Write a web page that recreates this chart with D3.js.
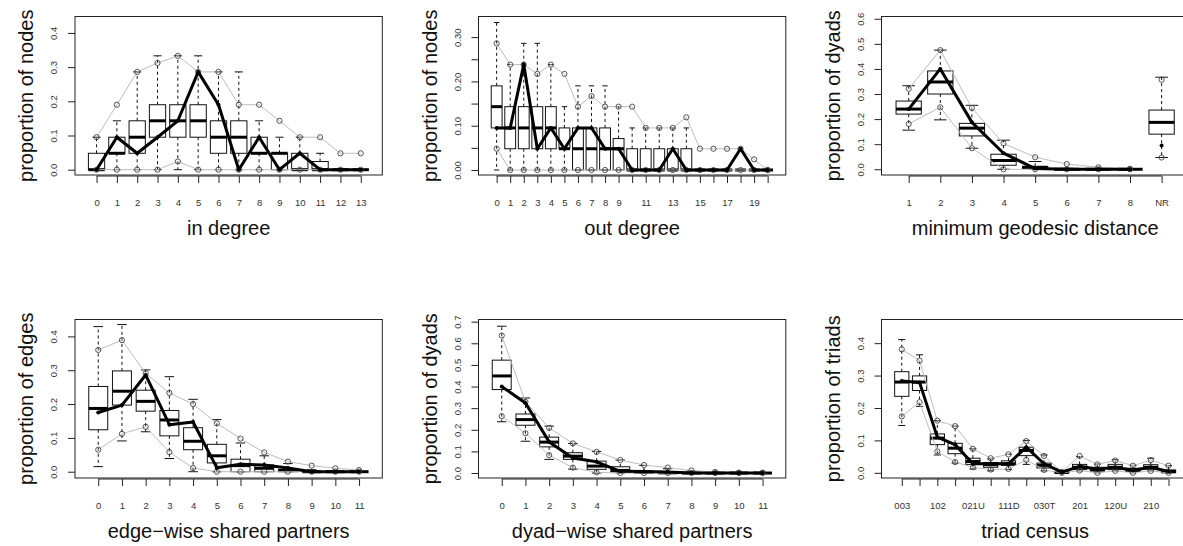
<!DOCTYPE html>
<html>
<head>
<meta charset="utf-8">
<script src="https://cdn.jsdelivr.net/npm/d3@7"></script>
<style>
  body { margin: 0; background: #fff; }
  svg { display: block; }
  text { font-family: "Liberation Sans", Arial, Helvetica, sans-serif; }
</style>
</head>
<body>
<div id="chart"></div>
<script>
// box = [lower whisker, q1, median, q3, upper whisker]

// in degree
const idegLabels = ["0","1","2","3","4","5","6","7","8","9","10","11","12","13"];
const idegBox = [[0,0,0,.048,.095],[0,.048,.048,.095,.143],[0,.048,.095,.143,.286],[0,.095,.143,.190,.333],
  [0,.095,.143,.190,.333],[0,.095,.143,.190,.333],[0,.048,.095,.143,.286],[0,.048,.095,.143,.286],
  [0,.048,.048,.095,.143],[0,0,.048,.048,.095],[0,0,0,.048,.095],[0,0,0,.024,.048],[0,0,0,0,0],[0,0,0,0,0]];
const idegObs = [0,.095,.048,.095,.143,.286,.190,0,.095,0,.048,0,0,0];
const idegHi = [.095,.190,.286,.312,.333,.286,.286,.190,.190,.143,.095,.095,.048,.048];
const idegLo = [0,0,0,0,.024,0,0,0,0,0,0,0,0,0];

// out degree
const odegLabels = ["0","1","2","3","4","5","6","7","8","9","","11","","13","","15","","17","","19",""];
const odegBox = [[0,.095,.143,.190,.333],[0,.048,.095,.143,.238],[0,.048,.095,.143,.286],[0,.048,.095,.143,.286],
  [0,.048,.095,.143,.238],[0,.048,.048,.095,.143],[0,0,.048,.095,.190],[0,0,.048,.095,.190],[0,0,.048,.095,.190],
  [0,0,.048,.071,.143],[0,0,0,.048,.095],[0,0,0,.048,.095],[0,0,0,.048,.095],[0,0,0,.048,.095],[0,0,0,.048,.095],
  [0,0,0,0,0],[0,0,0,0,0],[0,0,0,0,0],[0,0,0,0,0],[0,0,0,0,0],[0,0,0,0,0]];
const odegObs = [.095,.095,.238,.048,.095,.048,.095,.095,.048,.048,0,0,0,.048,0,0,0,0,.048,0,0];
const odegHi = [.286,.238,.238,.217,.238,.217,.143,.167,.143,.143,.143,.095,.095,.095,.119,.048,.048,.048,.048,.024,0];
const odegLo = [.048,0,0,0,0,0,0,0,0,0,0,0,0,0,0,0,0,0,0,0,0];

// minimum geodesic distance
const distLabels = ["1","2","3","4","5","6","7","8","NR"];
const distBox = [[.156,.22,.24,.272,.333],[.197,.30,.348,.392,.475],[.084,.133,.164,.183,.255],[0,.016,.035,.06,.116],
  [0,.003,.007,.012,.031],[0,0,0,.001,.004],[0,0,0,0,.002],[0,0,0,0,0],[.047,.14,.187,.236,.367]];
const distObs = [.24,.40,.187,.064,.003,0,0,0,.095];
const distHi = [.321,.475,.244,.103,.048,.021,.008,.002,.357];
const distLo = [.181,.247,.084,0,0,0,0,0,.047];

// edge-wise shared partners
const espLabels = ["0","1","2","3","4","5","6","7","8","9","10","11"];
const espBox = [[.015,.124,.187,.252,.429],[.091,.197,.238,.298,.435],[.118,.179,.208,.241,.301],[.039,.106,.153,.181,.281],
  [0,.065,.09,.13,.214],[0,.026,.047,.081,.154],[0,0,.018,.037,.085],[0,0,.01,.02,.047],[0,0,.004,.006,.024],
  [0,0,0,0,.006],[0,0,0,0,.003],[0,0,0,0,0]];
const espObs = [.175,.197,.286,.139,.147,.012,.022,.02,.011,0,0,0];
const espHi = [.36,.389,.291,.233,.2,.143,.098,.057,.03,.018,.01,.005];
const espLo = [.065,.112,.133,.058,.011,0,0,0,0,0,0,0];

// dyad-wise shared partners
const dspLabels = ["0","1","2","3","4","5","6","7","8","9","10","11"];
const dspBox = [[.237,.386,.449,.522,.679],[.147,.221,.247,.273,.347],[.063,.121,.143,.166,.217],[.018,.063,.078,.094,.137],
  [0,.017,.032,.055,.1],[0,.005,.012,.029,.06],[0,0,.004,.009,.035],[0,0,.001,.004,.02],[0,0,0,.001,.01],
  [0,0,0,0,.004],[0,0,0,0,.001],[0,0,0,0,0]];
const dspObs = [.40,.324,.144,.069,.052,.008,.007,.005,0,0,0,0];
const dspHi = [.636,.329,.209,.137,.098,.06,.037,.025,.012,.005,.002,.002];
const dspLo = [.263,.184,.083,.025,.003,0,0,0,0,0,0,0];

// triad census
const triadLabels = ["003","","102","","021U","","111D","","030T","","201","","120U","","210",""];
const triadBox = [[.146,.236,.28,.312,.411],[.205,.254,.28,.299,.364],[.055,.087,.107,.12,.161],[.03,.059,.076,.091,.144],
  [.012,.026,.035,.045,.074],[.006,.017,.025,.032,.043],[.01,.023,.028,.037,.057],[.026,.053,.069,.079,.1],
  [.006,.015,.023,.03,.055],[0,0,.001,.002,.004],[.006,.01,.017,.026,.05],[0,.005,.01,.017,.027],
  [.006,.01,.017,.026,.04],[0,.004,.009,.014,.023],[.006,.011,.017,.025,.045],[0,0,.004,.009,.022]];
const triadObs = [.283,.279,.11,.087,.028,.028,.028,.079,.028,.002,.02,.011,.017,.008,.017,.004];
const triadHi = [.381,.346,.161,.144,.074,.045,.057,.098,.052,.003,.052,.026,.038,.022,.039,.022];
const triadLo = [.174,.218,.066,.033,.017,.01,.012,.04,.009,0,.007,0,.006,0,.006,0];

// axis ticks
const yTicks4 = [0, .1, .2, .3, .4];
const yTicks6 = [0, .1, .2, .3, .4, .5, .6];
const yTicks7 = [0, .1, .2, .3, .4, .5, .6, .7];
const yTicksOut = [0, .05, .10, .15, .20, .25, .30];
const yLabelsOut = ["0.00", "", "0.10", "", "0.20", "", "0.30"];

const width = 1183, height = 546;
const colLeft = [75, 478.5, 881.5];
const rowTop = [16.5, 319.5];
const panelW = 307.3, panelH = 158.5;

const panels = [
  {col: 0, row: 0, labels: idegLabels, box: idegBox, obs: idegObs, hi: idegHi, lo: idegLo,
   ydom: [-0.0155, 0.448], yticks: yTicks4, xtitle: "in degree", ytitle: "proportion of nodes"},
  {col: 1, row: 0, labels: odegLabels, box: odegBox, obs: odegObs, hi: odegHi, lo: odegLo,
   ydom: [-0.0113, 0.3466], yticks: yTicksOut, ylabels: yLabelsOut, xtitle: "out degree", ytitle: "proportion of nodes"},
  {col: 2, row: 0, labels: distLabels, box: distBox, obs: distObs, hi: distHi, lo: distLo, lineN: 8,
   ydom: [-0.0228, 0.609], yticks: yTicks6, xtitle: "minimum geodesic distance", ytitle: "proportion of dyads"},
  {col: 0, row: 1, labels: espLabels, box: espBox, obs: espObs, hi: espHi, lo: espLo,
   ydom: [-0.0186, 0.45], yticks: yTicks4, xtitle: "edge\u2212wise shared partners", ytitle: "proportion of edges"},
  {col: 1, row: 1, labels: dspLabels, box: dspBox, obs: dspObs, hi: dspHi, lo: dspLo,
   ydom: [-0.023, 0.71], yticks: yTicks7, xtitle: "dyad\u2212wise shared partners", ytitle: "proportion of dyads"},
  {col: 2, row: 1, labels: triadLabels, box: triadBox, obs: triadObs, hi: triadHi, lo: triadLo,
   ydom: [-0.016, 0.473], yticks: yTicks4, xtitle: "triad census", ytitle: "proportion of triads"}
];

const svg = d3.select("#chart").append("svg")
  .attr("width", width)
  .attr("height", height);
svg.append("rect").attr("width", width).attr("height", height).attr("fill", "#fff");

function drawPanel(p) {
  const left = colLeft[p.col], top = rowTop[p.row];
  const right = left + panelW, bottom = top + panelH;
  const n = p.labels.length;
  // R style boxplot x range: 0.5 .. n+0.5, extended by 4%
  const x = d3.scaleLinear().domain([-0.5 - 0.04 * n, n - 0.5 + 0.04 * n]).range([left, right]);
  const y = d3.scaleLinear().domain(p.ydom).range([bottom, top]);
  const bw = (x(1) - x(0)) * 0.8;
  const g = svg.append("g");

  // whiskers (dashed)
  const wh = g.append("g").attr("stroke", "#111").attr("stroke-width", 1);
  wh.selectAll("line.up").data(p.box).join("line")
    .attr("class", "up")
    .attr("x1", (d, i) => x(i)).attr("x2", (d, i) => x(i))
    .attr("y1", d => y(d[3])).attr("y2", d => y(d[4]))
    .attr("stroke-dasharray", "3,3");
  wh.selectAll("line.dn").data(p.box).join("line")
    .attr("class", "dn")
    .attr("x1", (d, i) => x(i)).attr("x2", (d, i) => x(i))
    .attr("y1", d => y(d[1])).attr("y2", d => y(d[0]))
    .attr("stroke-dasharray", "3,3");
  // staples
  wh.selectAll("line.cap-hi").data(p.box).join("line")
    .attr("class", "cap-hi")
    .attr("x1", (d, i) => x(i) - bw / 4).attr("x2", (d, i) => x(i) + bw / 4)
    .attr("y1", d => y(d[4])).attr("y2", d => y(d[4]));
  wh.selectAll("line.cap-lo").data(p.box).join("line")
    .attr("class", "cap-lo")
    .attr("x1", (d, i) => x(i) - bw / 4).attr("x2", (d, i) => x(i) + bw / 4)
    .attr("y1", d => y(d[0])).attr("y2", d => y(d[0]));

  // boxes
  g.append("g").selectAll("rect").data(p.box).join("rect")
    .attr("x", (d, i) => x(i) - bw / 2)
    .attr("y", d => y(d[3]))
    .attr("width", bw)
    .attr("height", d => Math.max(0, y(d[1]) - y(d[3])))
    .attr("fill", "none")
    .attr("stroke", "#111")
    .attr("stroke-width", 1);
  // medians
  g.append("g").selectAll("line").data(p.box).join("line")
    .attr("x1", (d, i) => x(i) - bw / 2).attr("x2", (d, i) => x(i) + bw / 2)
    .attr("y1", d => y(d[2])).attr("y2", d => y(d[2]))
    .attr("stroke", "#000")
    .attr("stroke-width", 3);

  // simulated 95% bounds (gray lines with open circles)
  const lineN = p.lineN || n;
  const line = d3.line().x(d => x(d.i)).y(d => y(d.v));
  [p.hi, p.lo].forEach(arr => {
    const pts = arr.map((v, i) => ({i, v}));
    g.append("path")
      .datum(pts.slice(0, lineN))
      .attr("d", line)
      .attr("fill", "none")
      .attr("stroke", "#bdbdbd")
      .attr("stroke-width", 1);
    g.append("g").selectAll("circle").data(pts).join("circle")
      .attr("cx", d => x(d.i)).attr("cy", d => y(d.v))
      .attr("r", 2.6)
      .attr("fill", "none")
      .attr("stroke", "#444")
      .attr("stroke-width", 0.9);
  });

  // observed
  const obsPts = p.obs.map((v, i) => ({i, v}));
  g.append("path")
    .datum(obsPts.slice(0, lineN))
    .attr("d", line)
    .attr("fill", "none")
    .attr("stroke", "#000")
    .attr("stroke-width", 3)
    .attr("stroke-linejoin", "round");
  g.append("g").selectAll("circle").data(obsPts).join("circle")
    .attr("cx", d => x(d.i)).attr("cy", d => y(d.v))
    .attr("r", 2)
    .attr("fill", "#000");

  // frame
  g.append("rect")
    .attr("x", left).attr("y", top)
    .attr("width", panelW).attr("height", panelH)
    .attr("fill", "none")
    .attr("stroke", "#222")
    .attr("stroke-width", 1);

  // x axis
  const xAxis = g.append("g")
    .attr("transform", `translate(0,${bottom + 1})`)
    .call(d3.axisBottom(x).tickValues(d3.range(n)).tickFormat(i => p.labels[i])
      .tickSize(7).tickSizeOuter(0).tickPadding(16));
  xAxis.select(".domain").attr("d", `M${x(0)},0H${x(n - 1)}`).attr("stroke", "#222");
  xAxis.selectAll(".tick line").attr("stroke", "#222");
  xAxis.selectAll(".tick text").attr("font-size", 9.5).attr("fill", "#333")
    .attr("font-family", "Liberation Sans, Arial, sans-serif");

  // y axis with rotated labels
  const yLab = p.ylabels || p.yticks.map(v => d3.format(".1f")(v));
  const yAxis = g.append("g")
    .attr("transform", `translate(${left},0)`)
    .call(d3.axisLeft(y).tickValues(p.yticks).tickFormat((v, i) => yLab[i]).tickSize(7).tickSizeOuter(0));
  yAxis.select(".domain").remove();
  yAxis.selectAll(".tick line").attr("stroke", "#222");
  yAxis.selectAll(".tick text")
    .attr("transform", "rotate(-90)")
    .attr("x", 0).attr("y", -21).attr("dy", "0.35em")
    .attr("text-anchor", "middle")
    .attr("font-size", 9.5).attr("fill", "#333")
    .attr("font-family", "Liberation Sans, Arial, sans-serif");

  // titles
  g.append("text")
    .attr("x", (left + right) / 2).attr("y", bottom + 53)
    .attr("dy", "0.35em")
    .attr("text-anchor", "middle")
    .attr("font-size", 20).attr("fill", "#111")
    .text(p.xtitle);
  g.append("text")
    .attr("transform", `translate(${left - 49},${(top + bottom) / 2}) rotate(-90)`)
    .attr("dy", "0.35em")
    .attr("text-anchor", "middle")
    .attr("font-size", 20).attr("fill", "#111")
    .text(p.ytitle);
}

panels.forEach(drawPanel);
</script>
</body>
</html>
